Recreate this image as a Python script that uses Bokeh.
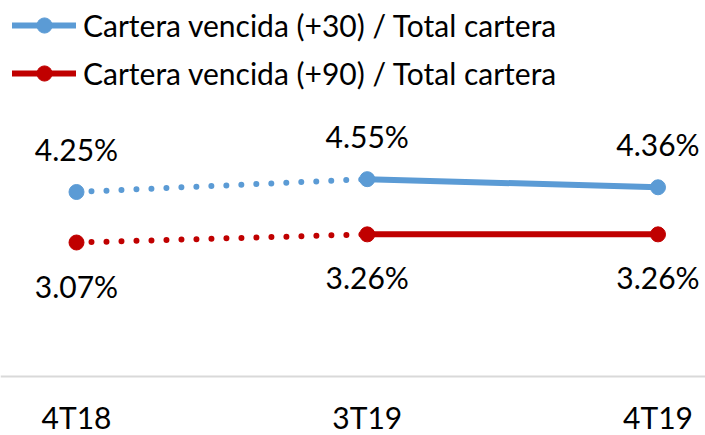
from bokeh.plotting import figure
from bokeh.models import FixedTicker, Legend, LegendItem, ColumnDataSource, Range1d
from bokeh.core.properties import value
from bokeh.embed import file_html
from bokeh.resources import INLINE

categories = ["4T18", "3T19", "4T19"]
cv30 = [4.25, 4.55, 4.36]
cv90 = [3.07, 3.26, 3.26]
name30 = "Cartera vencida (+30) / Total cartera"
name90 = "Cartera vencida (+90) / Total cartera"

BLUE = "#5B9BD5"
RED = "#C00000"
FONT = "Lato"
FS = "30px"

xs = list(range(len(categories)))
W, H = 705, 435
px_x = 290.75
x0 = 76
px_y = 42.8
y_zero = 373.4      # pixel row of value 0
axis_px = 375.7     # pixel row of the category axis line

p = figure(width=W, height=H, output_backend="svg", toolbar_location=None,
           x_range=Range1d(-x0 / px_x, (W - x0) / px_x),
           y_range=Range1d((y_zero - H) / px_y, y_zero / px_y),
           min_border=0)
p.outline_line_color = None
p.grid.visible = False
p.yaxis.visible = False
p.background_fill_color = "white"
p.border_fill_color = "white"

xa = p.xaxis[0]
xa.fixed_location = (y_zero - axis_px) / px_y
xa.ticker = FixedTicker(ticks=xs)
xa.major_label_overrides = {i: c for i, c in enumerate(categories)}
xa.axis_line_color = "#D9D9D9"
xa.axis_line_width = 2
xa.major_tick_line_color = None
xa.major_tick_out = 0
xa.major_tick_in = 0
xa.minor_tick_line_color = None
xa.major_label_text_font = FONT
xa.major_label_text_font_size = "30px"
xa.major_label_text_color = "black"
xa.major_label_standoff = 23

legend_items = []
for vals, color, name, off in [(cv30, BLUE, name30, -43), (cv90, RED, name90, 43)]:
    p.line(xs[:2], vals[:2], line_color=color, line_width=6, line_dash="0 15", line_cap="round")
    solid = p.line(xs[1:], vals[1:], line_color=color, line_width=6, line_cap="round")
    src = ColumnDataSource(dict(x=xs, y=vals, lab=[f"{v:.2f}%" for v in vals]))
    dots = p.scatter("x", "y", source=src, size=15, fill_color=color, line_color=color)
    p.text("x", "y", text="lab", source=src, y_offset=off, text_align="center",
           text_baseline="middle", text_font=value(FONT), text_font_size=FS, text_color="black")
    legend_items.append(LegendItem(label=name, renderers=[solid, dots]))

legend = Legend(items=legend_items, location=(12, H - 6 - 86), padding=0, margin=0,
                spacing=10, glyph_width=64, glyph_height=38, label_height=38,
                label_standoff=7, label_text_font=FONT, label_text_font_size=FS,
                label_text_color="black", border_line_color=None, background_fill_alpha=0)
p.add_layout(legend, "center")

open("out.html", "w").write(file_html(p, INLINE))
